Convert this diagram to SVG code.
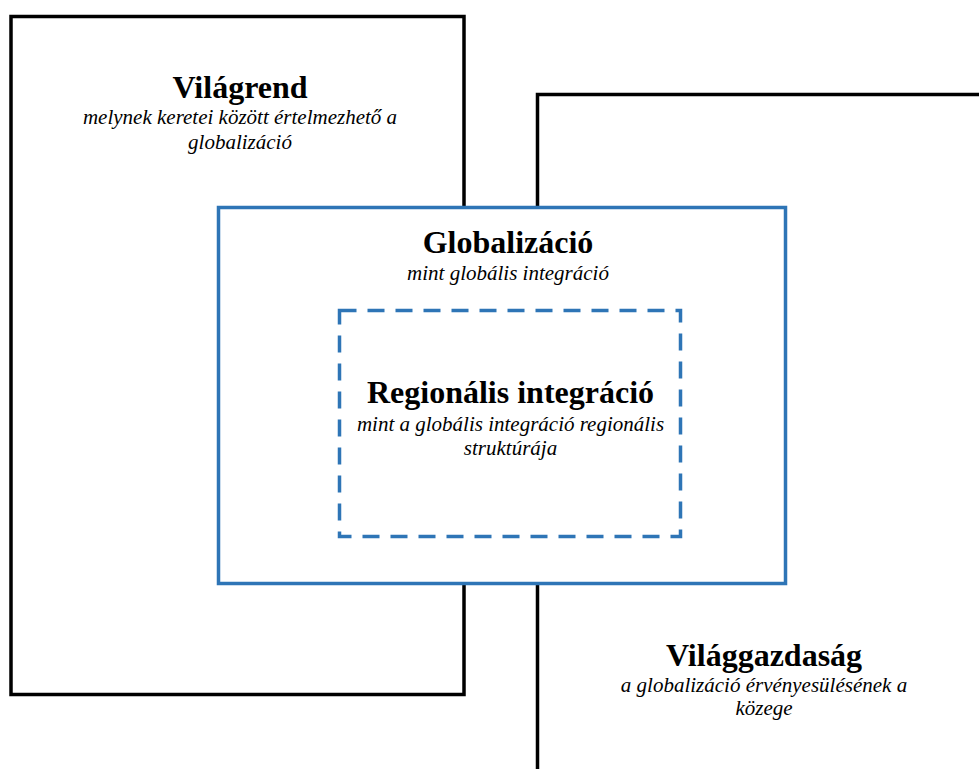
<svg xmlns="http://www.w3.org/2000/svg" width="979" height="769" viewBox="0 0 979 769">
<style>
.frame{fill:#fff;stroke:#000;stroke-width:3.5}
.line{fill:none;stroke:#000;stroke-width:3.5}
.blue{fill:#fff;stroke:#2E75B6;stroke-width:3.5}
.dash{fill:none;stroke:#2E75B6;stroke-width:3.5;stroke-dasharray:17 11}
.t{font-family:"Liberation Serif","Times New Roman",serif;font-weight:bold;font-size:32px;text-anchor:middle;fill:#000}
.s{font-family:"Liberation Serif","Times New Roman",serif;font-style:italic;font-size:21px;text-anchor:middle;fill:#000}
</style>
<rect width="979" height="769" fill="#fff"/>
<g id="vilagrend">
<rect class="frame" x="11" y="16.5" width="453" height="678"/>
<text class="t" x="240" y="98">Világrend</text>
<text class="s" x="240" y="124">melynek keretei között értelmezhető a</text>
<text class="s" x="240" y="149">globalizáció</text>
</g>
<g id="vilaggazdasag">
<path class="line" d="M537.5,769 V94.5 H985"/>
<text class="t" x="764" y="666">Világgazdaság</text>
<text class="s" x="764" y="692">a globalizáció érvényesülésének a</text>
<text class="s" x="764" y="715">közege</text>
</g>
<g id="globalizacio">
<rect class="blue" x="218.5" y="207.5" width="567" height="376"/>
<text class="t" x="508" y="253">Globalizáció</text>
<text class="s" x="508" y="280">mint globális integráció</text>
</g>
<g id="regionalis">
<rect class="dash" x="339.5" y="310.5" width="341" height="226"/>
<text class="t" x="510.5" y="403">Regionális integráció</text>
<text class="s" x="510.5" y="431">mint a globális integráció regionális</text>
<text class="s" x="510.5" y="455">struktúrája</text>
</g>
<g id="connectors"></g>
</svg>
